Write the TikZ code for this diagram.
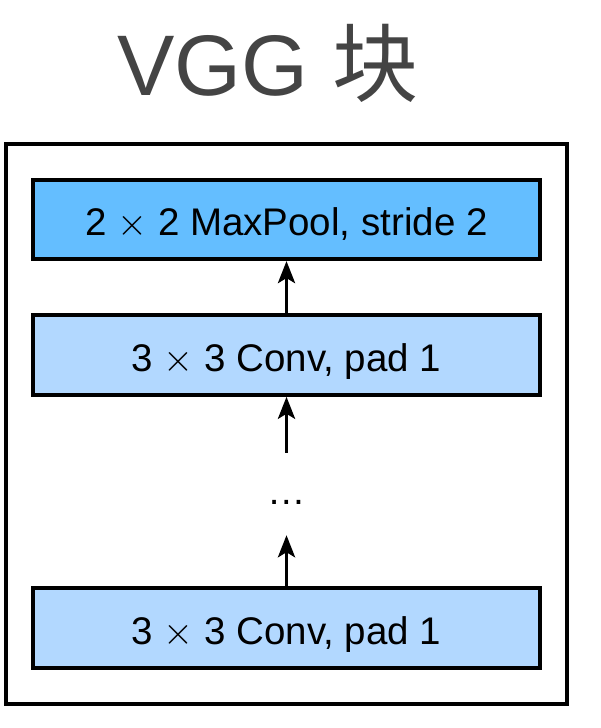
\RequirePackage{fix-cm}
\documentclass[tikz,border=0pt]{standalone}
\usepackage{fontspec}
\setmainfont{Liberation Sans}
\newfontfamily\cjk{Noto Sans CJK SC}
\usetikzlibrary{arrows.meta}
\definecolor{poolblue}{RGB}{100,190,255}
\definecolor{convblue}{RGB}{178,216,255}
\definecolor{titlegray}{RGB}{68,68,68}
\tikzset{layer/.style={
    draw, line width=4pt, fill=convblue,
    minimum width=507pt, minimum height=79.5pt,
    text height=32pt, text depth=0pt,
    font=\fontsize{38.5}{40}\selectfont
  },
  pool layer/.style={layer, fill=poolblue},
  up/.style={line width=3.8pt, -{Stealth[length=22pt,width=17pt,inset=5pt]}}
}
\begin{document}
\begin{tikzpicture}[x=1pt,y=-1pt]
      \useasboundingbox (0,0) rectangle (600,728);
      \node[titlegray, anchor=base, font=\fontsize{86}{90}\selectfont] (title) at (268,95) {VGG {\cjk 块}};
      \draw[line width=4pt] (6,143.7) rectangle (567,704);
      \node[pool layer] (pool) at (286.5,219.3) {2 $\times$ 2 MaxPool, stride 2};
      \node[layer] (conv2) at (286.5,355) {3 $\times$ 3 Conv, pad 1};
      \node[layer] (conv1) at (286.5,628) {3 $\times$ 3 Conv, pad 1};
      \node[anchor=base, inner sep=0pt, text height=51pt, text depth=31pt, font=\fontsize{38.5}{40}\selectfont] (dots) at (286.5,504) {…};
      \draw[up] (conv2) -- (pool);
      \draw[up] (dots) -- (conv2);
      \draw[up] (conv1) -- (dots);
    \end{tikzpicture}
\end{document}
